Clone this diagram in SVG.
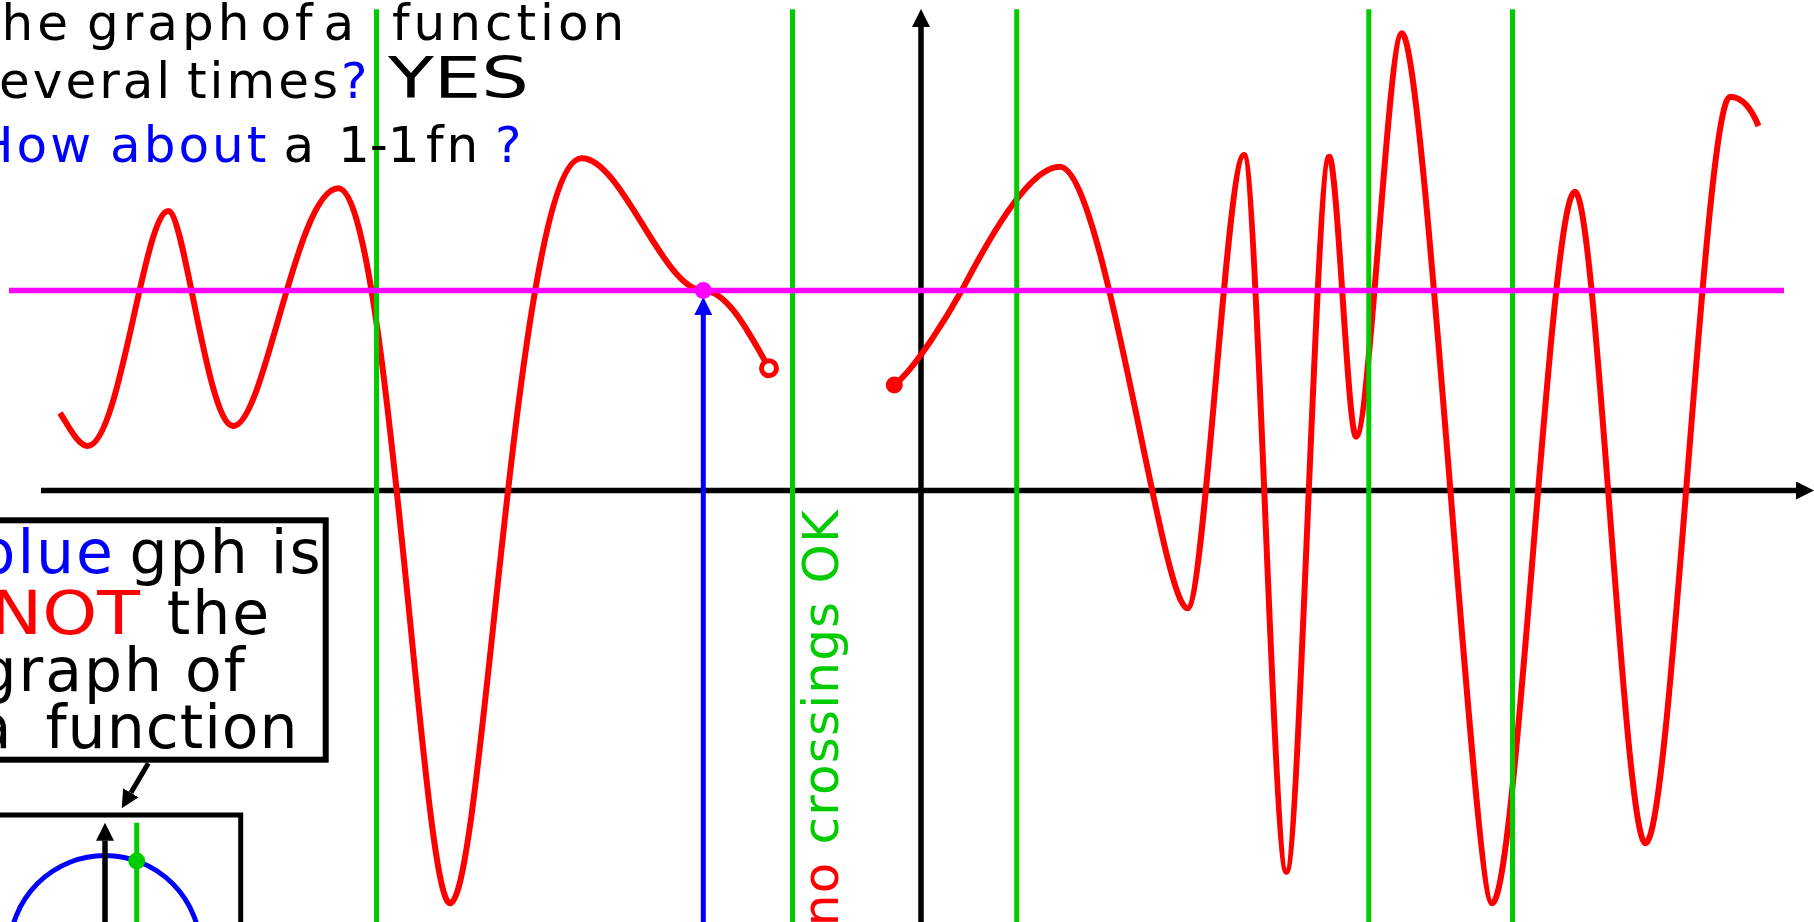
<svg xmlns="http://www.w3.org/2000/svg" width="1814" height="922" viewBox="0 0 1814 922">
<style>
.t{font-family:"DejaVu Sans","Liberation Sans",sans-serif}
.k{fill:#000}.b{fill:#0000ff}.r{fill:#ff0000}.g{fill:#00cc00}
.ax{stroke:#000;stroke-width:5.5;fill:none}
.grn{stroke:#00cc00;stroke-width:5;fill:none}
.curve{fill:none;stroke:#ff0000;stroke-width:6;stroke-linejoin:round}
.box{fill:#fff;stroke:#000;stroke-width:6}
</style>
<defs>
<marker id="ah" markerUnits="userSpaceOnUse" viewBox="0 0 18 18" markerWidth="18" markerHeight="18" refX="0" refY="9" orient="auto"><path d="M0,0 L18,9 L0,18 z" fill="#000"/></marker>
<marker id="ahb" markerUnits="userSpaceOnUse" viewBox="0 0 18 18" markerWidth="18" markerHeight="18" refX="0" refY="9" orient="auto"><path d="M0,0 L18,9 L0,18 z" fill="#0000ff"/></marker>
</defs>
<rect width="1814" height="922" fill="#fff"/>

<g id="axes">
<line x1="41" y1="490.5" x2="1796" y2="490.5" class="ax" marker-end="url(#ah)"/>
<line x1="921" y1="922" x2="921" y2="27" class="ax" marker-end="url(#ah)"/>
</g>

<g id="red-graph">
<path class="curve" d="M60,413 C68,425 78,446 87.7,446 C120,446 144.1,211 168.3,211 C184.6,211 207.3,426 233.3,426 C264.8,426 296.3,188.3 338.3,188.3 C388.6,188.3 422.1,903.3 450,903.3 C482.9,903.3 515.9,158.3 581.7,158.3 C621.8,158.3 663.2,290.5 703.3,290.5 C728,290.5 750,335 769,368"/>
<path class="curve" d="M894.3,385 C916,368 949.5,312.4 961.7,290.5 C977,262 1025,166.7 1059.7,166.7 C1104.4,166.7 1161.9,608.3 1187.4,608.3 C1204.4,608.3 1227,155 1244,155 C1256.7,155 1273.7,871.7 1286.4,871.7 C1299.2,871.7 1316.4,156.7 1329.2,156.7 C1337.2,156.7 1348,436.7 1356,436.7 C1369.8,436.7 1388.1,33.3 1401.9,33.3 C1424.4,33.3 1474,903.3 1492,903.3 C1516.9,903.3 1550,191.7 1574.9,191.7 C1596.1,191.7 1624.3,843.3 1645.5,843.3 C1670.9,843.3 1704.6,96.7 1730,96.7 C1740,96.7 1750,105 1758.5,126"/>
</g>

<g id="vertical-lines">
<line class="grn" x1="376.5" y1="9.3" x2="376.5" y2="922"/>
<line class="grn" x1="792.5" y1="9.3" x2="792.5" y2="922"/>
<line class="grn" x1="1016.7" y1="9.3" x2="1016.7" y2="922"/>
<line class="grn" x1="1368.8" y1="9.3" x2="1368.8" y2="922"/>
<line class="grn" x1="1512.5" y1="9.3" x2="1512.5" y2="922"/>
</g>

<g id="blue-arrow">
<line x1="703.3" y1="922" x2="703.3" y2="315" stroke="#0000ff" stroke-width="5" marker-end="url(#ahb)"/>
</g>

<g id="horizontal-line">
<line x1="9" y1="290.5" x2="1784" y2="290.5" stroke="#ff00ff" stroke-width="5.5"/>
<circle cx="703.3" cy="290.5" r="8.5" fill="#ff00ff"/>
</g>

<g id="endpoints">
<circle cx="769" cy="368.3" r="7.5" fill="#fff" stroke="#ff0000" stroke-width="5"/>
<circle cx="894.3" cy="385" r="8.5" fill="#ff0000"/>
</g>

<g id="question-text" class="t" font-size="50">
<text y="40" letter-spacing="4" class="k"><tspan x="-22">the</tspan><tspan x="87">graph</tspan><tspan x="260.5">of</tspan><tspan x="323.5">a</tspan><tspan x="392">function</tspan></text>
<text y="98.3" letter-spacing="3" class="k"><tspan x="-30">several</tspan><tspan x="187">times</tspan><tspan class="b">?</tspan></text>
<text x="388" y="98.3" font-size="57" textLength="141" lengthAdjust="spacingAndGlyphs" class="k">YES</text>
<text y="161.7" letter-spacing="3" class="k"><tspan x="-24" class="b">How</tspan><tspan x="110" class="b">about</tspan><tspan x="283.5">a</tspan><tspan x="338" letter-spacing="0">1-1</tspan><tspan x="426">fn</tspan><tspan x="495" class="b">?</tspan></text>
</g>

<g id="crossings-label" class="t" font-size="50">
<text transform="translate(838,509) rotate(-90)" text-anchor="end" letter-spacing="1.2"><tspan class="r">no </tspan><tspan class="g">crossings OK</tspan></text>
</g>

<g id="note-box">
<rect class="box" x="-10" y="520.3" width="335.7" height="239.4"/>
<g class="t" font-size="60" letter-spacing="2">
<text y="573"><tspan x="-22.7" class="b">blue</tspan><tspan x="129.5" class="k">gph is</tspan></text>
<text x="-10" y="634" textLength="150" lengthAdjust="spacingAndGlyphs" letter-spacing="0" class="r">NOT</text>
<text x="166.8" y="634" class="k">the</text>
<text y="690.5" x="-21.6" class="k">graph of</text>
<text y="748" class="k"><tspan x="-25.2">a</tspan><tspan x="45.5" letter-spacing="1">function</tspan></text>
</g>
</g>

<g id="inset-box">
<rect x="-10" y="815" width="250.7" height="150" fill="#fff" stroke="#000" stroke-width="5"/>
<circle cx="105" cy="951" r="95.5" fill="none" stroke="#0000ff" stroke-width="5"/>
<line x1="105" y1="922" x2="105" y2="840.7" class="ax" marker-end="url(#ah)"/>
<line class="grn" x1="136.7" y1="822.7" x2="136.7" y2="922"/>
<circle cx="136.7" cy="861" r="8.5" fill="#00cc00"/>
</g>

<g id="connectors">
<line x1="148.3" y1="763.3" x2="130.9" y2="792.8" stroke="#000" stroke-width="5" marker-end="url(#ah)"/>
</g>
</svg>
